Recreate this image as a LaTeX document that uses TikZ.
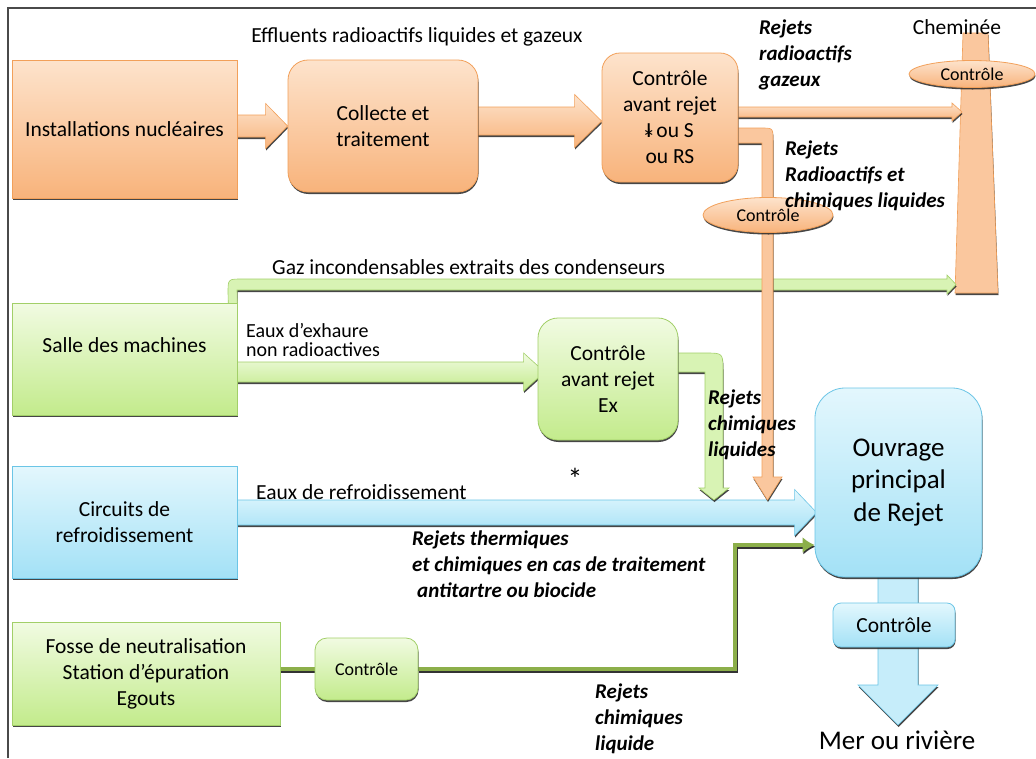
\documentclass[tikz,border=0pt]{standalone}
\usepackage{fontspec}
\setmainfont{Carlito}
\usetikzlibrary{shapes.geometric,shadows,calc,arrows.meta}
\definecolor{orT}{HTML}{FDE3CC}
\definecolor{orB}{HTML}{F8B37B}
\definecolor{orM}{HTML}{FAC79E}
\definecolor{orD}{HTML}{F2A05A}
\definecolor{grT}{HTML}{F1FBE2}
\definecolor{grB}{HTML}{C3EB8C}
\definecolor{grM}{HTML}{D8F3B4}
\definecolor{grD}{HTML}{A2CF68}
\definecolor{blT}{HTML}{E3F7FD}
\definecolor{blB}{HTML}{A3E1F6}
\definecolor{blM}{HTML}{C6EDFA}
\definecolor{blD}{HTML}{6BC5E6}
\definecolor{olv}{HTML}{8CAF4A}
\definecolor{frm}{HTML}{4A4A4A}
\newcommand\fsz[2]{\fontsize{#1}{#2}\selectfont}
\newcommand\Istar{\ooalign{I\cr\hidewidth\raisebox{-0.45em}{\fsz{26}{26}*}\hidewidth\cr}}
\newcommand\harr[6]{%
  \path[#1] ($(#2)+(0,-#4)$) -- ($(#3)+(-#6,-#4)$) -- ($(#3)+(-#6,-#5)$) -- (#3)
    -- ($(#3)+(-#6,#5)$) -- ($(#3)+(-#6,#4)$) -- ($(#2)+(0,#4)$) -- cycle;}
\pgfdeclarelayer{back}\pgfdeclarelayer{bg}\pgfdeclarelayer{front}
\pgfsetlayers{back,bg,main,front}
\tikzset{
  shd/.style={drop shadow={shadow xshift=0.5pt,shadow yshift=-2pt,fill=black!85,opacity=0.85}},
  box/.style={shd, line width=0.8pt, align=center, font=\fsz{21.5}{26}, inner sep=2pt},
  obox/.style={box, draw=orD, top color=orT, bottom color=orB},
  gbox/.style={box, draw=grD, top color=grT, bottom color=grB},
  bbox/.style={box, draw=blD, top color=blT, bottom color=blB},
  oarr/.style={shd, draw=orD, line width=0.6pt, top color=orT, bottom color=orB},
  garr/.style={shd, draw=grD, line width=0.6pt, top color=grT, bottom color=grB},
  barr/.style={shd, draw=blD, line width=0.6pt, top color=blT, bottom color=blB},
  oarrf/.style={shd, draw=orD, line width=0.6pt, fill=orM},
  garrf/.style={shd, draw=grD, line width=0.6pt, fill=grM},
  barrf/.style={shd, draw=blD, line width=0.6pt, fill=blM},
  oline/.style={line width=4pt, draw=olv, preaction={draw=black!80, line width=4pt, transform canvas={xshift=0.8pt,yshift=-1.6pt}}},
  ctlell/.style={ellipse, shd, draw=orD, line width=0.8pt, top color=orT, bottom color=orB, inner sep=0, font=\fsz{18}{20}},
  lab/.style={font=\fsz{21.5}{26}, inner sep=0, align=left},
  bi/.style={font=\fsz{21}{26}\bfseries\itshape, inner sep=0, align=left},
}
\begin{document}
\begin{tikzpicture}[x=1pt,y=-1pt]
\useasboundingbox (0,0) rectangle (1036,758);
\begin{pgfonlayer}{back}
\fill[white] (0,0) rectangle (1036,758);
\draw[frm, line width=1.3pt] (8,758) -- (8,8) -- (1036,8);
\end{pgfonlayer}

% boxes
\node[obox, minimum width=225, minimum height=138] (inst) at (124.5,129) {Installations nucléaires};
\node[obox, rounded corners=20, minimum width=190, minimum height=132] (coll) at (383,126) {Collecte et\\traitement};
\node[obox, rounded corners=18, minimum width=136, minimum height=129] (cr1) at (670,117.5) {Contrôle\\avant rejet\\\Istar{} ou S\\ou RS};
\node[gbox, minimum width=225, minimum height=112, label={[font=\fsz{21.5}{26},yshift=14]center:Salle des machines}] (salle) at (124.5,359) {};
\node[gbox, rounded corners=20, minimum width=140, minimum height=122] (ex) at (608,379) {Contrôle\\avant rejet\\Ex};
\node[bbox, minimum width=225, minimum height=112] (circ) at (124.5,522) {Circuits de\\refroidissement};
\node[gbox, minimum width=268, minimum height=103] (fosse) at (146,673.5) {Fosse de neutralisation\\Station d’épuration\\Egouts};
\node[gbox, rounded corners=12, minimum width=103, minimum height=62, font=\fsz{18}{20}] (ctl2) at (366.5,669) {Contrôle};
\node[bbox, rounded corners=30, minimum width=167, minimum height=189, font=\fsz{27}{32.5}] (ouvr) at (898.5,482.5) {Ouvrage\\principal\\de Rejet};

\begin{pgfonlayer}{bg}
% chimney
\path[shd, draw=orD, line width=0.6pt, fill=orM] (963,33) coordinate (chA) -- (988,33) coordinate (chB) -- (998,293) coordinate (chC) -- (955,293) coordinate (chD) -- cycle;
% horizontal arrows
\coordinate (a1s) at ($(inst.east)+(-3,-3)$);
\coordinate (a1t) at (coll.west |- a1s);
\harr{oarr}{a1s}{a1t}{11}{22.5}{22}
\coordinate (a2s) at ($(coll.east)+(-3,-5)$);
\coordinate (a2t) at (cr1.west |- a2s);
\harr{oarr}{a2s}{a2t}{14}{26.5}{27}
% gas green (from salle to chimney)
\coordinate (ch2) at (956,284.5);
\path[garrf] ($(salle.north east)+(-9,5)$) -- (228,293) .. controls (228,279) .. (242,279) -- (947,279) -- (947,275) -- (ch2) -- (947,294) -- (947,290) -- (237,290) -- ($(salle.north east)+(0,5)$) -- cycle;
% gaseous orange to chimney
\coordinate (a3s) at ($(cr1.east)+(-5,-5.5)$);
\coordinate (a3t) at (962,112);
\harr{oarr}{a3s}{a3t}{5}{9}{10}
% exhaure
\coordinate (a4s) at ($(salle.east)+(-3,13)$);
\coordinate (a4t) at ($(ex.west |- a4s)+(7,0)$);
\harr{garr}{a4s}{a4t}{10}{19}{21}
% cooling water
\coordinate (a5s) at ($(circ.east)+(-3,-9.5)$);
\coordinate (a5t) at ($(ouvr.west |- a5s)+(2,0)$);
\harr{barr}{a5s}{a5t}{12.5}{23}{22}
% Ex bent arrow
\coordinate (gt) at (714,500);
\path[garrf] ($(ex.east)+(-8,-26)$) -- (705,353) .. controls (723,353) .. (723,371) -- (723,488) -- (729,488) -- (gt) -- (699,488) -- (705,488) -- (705,372) -- ($(ex.east)+(-8,-7)$) -- cycle;
% liquid radioactive bent arrow
\coordinate (lt) at (767.5,500);
\path[oarrf] ($(cr1.east)+(-8,10.5)$) -- (761,128) .. controls (773,128) .. (773,140) -- (773,477) -- (782,477) -- (lt) -- (753,477) -- (762,477) -- (762,143) -- ($(cr1.east)+(-8,25.5)$) -- cycle;
% outlet down arrow
\coordinate (dt) at (898,725);
\path[barrf] ($(ouvr.south)+(-20.5,-8)$) -- (878,685) -- (858,685) -- (dt) -- (938,685) -- (918,685) -- ($(ouvr.south)+(19.5,-8)$) -- cycle;
% olive lines
\draw[oline] (fosse.east |- ctl2.west) -- (ctl2.west);
\coordinate (ob) at (735,545);
\draw[oline, -{Latex[length=12pt,width=16pt]}] (ctl2.east) -- (ctl2.east -| ob) -- (ob) -- (ob -| ouvr.west);
\end{pgfonlayer}

% ellipses and outlet control
\node[ctlell, minimum width=130, minimum height=35] (el1) at (768,215) {Contrôle};
\node[ctlell, minimum width=126, minimum height=27] (el2) at (972,74) {Contrôle};
\node[bbox, rounded corners=8, minimum width=122, minimum height=44] (ctl3) at (894,625) {Contrôle};

\begin{pgfonlayer}{front}
\node[lab] (t1) at (417,37) {Effluents radioactifs liquides et gazeux};
\node[bi, anchor=west] (t2) at (759,55) {Rejets\\radioactifs\\gazeux};
\node[bi, anchor=west] (t3) at (785,176) {Rejets\\Radioactifs et\\chimiques liquides};
\node[lab] (t4) at (957,27) {Cheminée};
\node[lab, anchor=west] (t5) at (272,267) {Gaz incondensables extraits des condenseurs};
\node[lab, anchor=west, font=\fsz{20}{19}] (t6) at (246,340) {Eaux d’exhaure\\non radioactives};
\node[bi, anchor=west] (t7) at (708,425) {Rejets\\chimiques\\liquides};
\node[lab, font=\fsz{30}{30}] (t8) at (575,479) {*};
\node[lab, anchor=west] (t9) at (256,492) {Eaux de refroidissement};
\node[bi, anchor=west] (t10) at (412,564) {Rejets thermiques\\et chimiques en cas de traitement\\\hspace*{5pt}antitartre ou biocide};
\node[bi, anchor=west] (t11) at (595,719) {Rejets\\chimiques\\liquide};
\node[lab, font=\fsz{27}{30}] (t12) at (897,740) {Mer ou rivière};
\end{pgfonlayer}
\end{tikzpicture}
\end{document}
